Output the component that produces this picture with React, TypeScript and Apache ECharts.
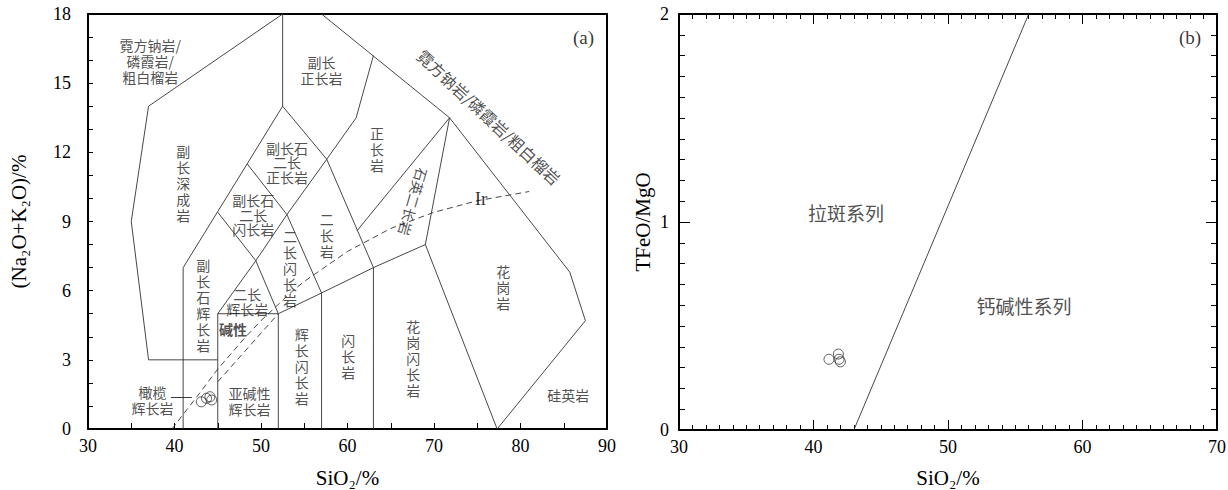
import React, { useEffect, useRef } from "react";
import * as echarts from "echarts";

// ---------- Panel (a): SiO2 vs Na2O+K2O plutonic classification ----------
const foidoliteBoundary = [[45, 3], [37, 3], [35, 9], [37, 14], [52.5, 18]];
const foidGabbroBoundary = [[41, 0], [41, 7], [48.4, 11.5], [52.5, 14], [52.5, 18]];
const gabbroBox = [[45, 0], [45, 5], [52, 5], [52, 0]];
const monzoRidge = [[45, 5], [49.4, 7.3], [53, 9.3], [57.6, 11.7]];
const monzogabbroTop = [[45, 9.4], [49.4, 7.3], [52, 5]];
const dioriteEdge = [[48.4, 11.5], [53, 9.3], [57, 5.9], [57, 0]];
const monzoniteEdge = [[52.5, 14], [57.6, 11.7], [63, 7], [63, 0]];
const lowerChain = [[52, 5], [57, 5.9], [63, 7], [69, 8], [77.3, 0]];
const syeniteLeft = [[57.6, 11.7], [61, 13.5], [63, 16.2]];
const outerRight = [[57, 18], [71.8, 13.5], [85.7, 6.8], [87.5, 4.7], [77.3, 0]];
const graniteLeft = [[69, 8], [71.8, 13.5]];
const quartzMonzoniteTop = [[61.1, 8.6], [71.8, 13.5]];
const irvineCurve = [[39.7, 0], [43, 1.6], [45, 2.6], [48, 3.9], [50, 4.7], [53.7, 6.0], [55, 6.4], [60, 7.7], [65, 8.7], [70, 9.4], [75, 9.9], [81, 10.3]];
const gabbroDivide = [[45, 2.05], [52, 5]];
const arrowFrom = [39.6, 1.38];
const arrowTo = [42.0, 1.38];

const samplesA_SiO2 = [43.1, 43.7, 44.1, 44.3];
const samplesA_Alk = [1.18, 1.33, 1.4, 1.26];

// field names (regular spacing)
const fieldNamesA = [
  "霓方钠岩/\n磷霞岩/\n粗白榴岩", "副长\n正长岩", "正\n长\n岩", "副\n长\n深\n成\n岩",
  "二\n长\n闪\n长\n岩", "二\n长\n岩", "副\n长\n石\n辉\n长\n岩", "亚碱性\n辉长岩", "橄榄\n辉长岩",
  "辉\n长\n闪\n长\n岩", "闪\n长\n岩", "花\n岗\n闪\n长\n岩", "花\n岗\n岩", "硅英岩",
];
const fieldXA = [37.2, 57.0, 63.4, 41.0, 53.35, 57.6, 43.33, 48.67, 37.46, 54.7, 60.1, 67.6, 78.0, 85.53];
const fieldYA = [15.94, 15.55, 12.14, 10.67, 7.0, 8.41, 5.4, 1.21, 1.24, 2.73, 3.17, 3.1, 6.17, 1.47];

// field names in the small diamonds (tighter spacing)
const diamondNamesA = ["副长石\n二长\n正长岩", "副长石\n二长\n闪长岩", "二长\n辉长岩"];
const diamondXA = [53.0, 49.1, 48.4];
const diamondYA = [11.58, 9.3, 5.53];

const alkalineNameA = ["碱性"];
const alkalineXA = [46.76];
const alkalineYA = [4.34];

const slantNameA = ["霓方钠岩/磷霞岩/粗白榴岩"];
const slantXA = [76.36];
const slantYA = [13.54];
const steepNameA = ["石英二长岩"];
const steepXA = [67.6];
const steepYA = [9.86];

const serifNamesA = ["(a)", "Ir"];
const serifXA = [87.28, 75.43];
const serifYA = [16.96, 10.0];

// ---------- Panel (b): SiO2 vs TFeO/MgO ----------
const miyashiroLine = [[43, 0], [56, 2]];
const samplesB_SiO2 = [41.15, 41.85, 41.9, 42.0];
const samplesB_Ratio = [0.34, 0.365, 0.34, 0.328];
const fieldNamesB = ["拉斑系列", "钙碱性系列"];
const fieldXB = [42.42, 55.65];
const fieldYB = [1.048, 0.6];
const serifNamesB = ["(b)"];
const serifXB = [67.99];
const serifYB = [1.885];

const SERIF = "'Liberation Serif', serif";
const CJK = "'Noto Sans CJK SC', sans-serif";

function App() {
  const ref = useRef<HTMLDivElement>(null);

  useEffect(() => {
    if (!ref.current) return;
    const chart = echarts.init(ref.current, null, { renderer: "svg" });

    const line = (data: number[][], panel: number, dashed = false) => ({
      type: "line",
      xAxisIndex: panel * 2,
      yAxisIndex: panel * 2,
      data,
      showSymbol: false,
      symbol: "none",
      silent: true,
      clip: false,
      z: 2,
      lineStyle: { color: "#333", width: 0.9, type: dashed ? [6, 4] : "solid" },
    });

    const labels = (names: string[], xs: number[], ys: number[], panel: number, style: any) => ({
      type: "scatter",
      xAxisIndex: panel * 2,
      yAxisIndex: panel * 2,
      silent: true,
      symbol: "circle",
      symbolSize: 1,
      itemStyle: { color: "rgba(0,0,0,0)" },
      z: 5,
      data: names.map((n, i) => ({ name: n, value: [xs[i], ys[i]] })),
      label: {
        show: true,
        position: "inside",
        formatter: "{b}",
        color: "#222",
        fontFamily: CJK,
        fontSize: 14,
        lineHeight: 16,
        align: "center",
        verticalAlign: "middle",
        ...style,
      },
    });

    const samples = (xs: number[], ys: number[], panel: number) => ({
      type: "scatter",
      xAxisIndex: panel * 2,
      yAxisIndex: panel * 2,
      silent: true,
      symbol: "circle",
      symbolSize: 10,
      z: 6,
      itemStyle: { color: "rgba(0,0,0,0)", borderColor: "#222", borderWidth: 0.9 },
      data: xs.map((x, i) => [x, ys[i]]),
    });

    const axisLine = { onZero: false, lineStyle: { color: "#000", width: 2 } };
    const tickLabel = { color: "#000", fontFamily: SERIF, fontSize: 18 };
    const nameStyle = { color: "#000", fontFamily: SERIF, fontSize: 21 };

    const option: any = {
      animation: false,
      backgroundColor: "#fff",
      textStyle: { fontFamily: SERIF },
      grid: [
        { left: 88, top: 14, width: 519, height: 415, containLabel: false, outerBoundsMode: "none" },
        { left: 679, top: 14, width: 538, height: 416, containLabel: false, outerBoundsMode: "none" },
      ],
      xAxis: [
        {
          gridIndex: 0, type: "value", min: 30, max: 90, interval: 10, position: "bottom",
          axisLine,
          axisTick: { show: true, inside: true, length: 6, lineStyle: { color: "#000", width: 1 } },
          minorTick: { show: true, splitNumber: 2, length: 6, lineStyle: { color: "#000", width: 1 } },
          splitLine: { show: false }, minorSplitLine: { show: false },
          axisLabel: { ...tickLabel, margin: 8 },
          name: "SiO₂/%", nameLocation: "middle", nameGap: 38, nameMoveOverlap: false, nameTextStyle: nameStyle,
        },
        {
          gridIndex: 0, type: "value", min: 30, max: 90, interval: 10, position: "top",
          axisLine, axisTick: { show: false }, axisLabel: { show: false }, splitLine: { show: false },
        },
        {
          gridIndex: 1, type: "value", min: 30, max: 70, interval: 10, position: "bottom",
          axisLine,
          axisTick: { show: true, inside: true, length: 10, lineStyle: { color: "#000", width: 1 } },
          minorTick: { show: true, splitNumber: 10, length: 5, lineStyle: { color: "#000", width: 1 } },
          splitLine: { show: false }, minorSplitLine: { show: false },
          axisLabel: { ...tickLabel, margin: 8 },
          name: "SiO₂/%", nameLocation: "middle", nameGap: 37, nameMoveOverlap: false, nameTextStyle: nameStyle,
        },
        {
          gridIndex: 1, type: "value", min: 30, max: 70, interval: 10, position: "top",
          axisLine,
          axisTick: { show: true, inside: true, length: 10, lineStyle: { color: "#000", width: 1 } },
          minorTick: { show: true, splitNumber: 10, length: 5, lineStyle: { color: "#000", width: 1 } },
          axisLabel: { show: false }, splitLine: { show: false },
        },
      ],
      yAxis: [
        {
          gridIndex: 0, type: "value", min: 0, max: 18, interval: 3, position: "left",
          axisLine,
          axisTick: { show: true, inside: true, length: 5, lineStyle: { color: "#000", width: 1 } },
          minorTick: { show: true, splitNumber: 3, length: 5, lineStyle: { color: "#000", width: 1 } },
          splitLine: { show: false }, minorSplitLine: { show: false },
          axisLabel: { ...tickLabel, margin: 17 },
          name: "(Na₂O+K₂O)/%", nameLocation: "middle", nameGap: 59, nameMoveOverlap: false, nameTextStyle: nameStyle,
        },
        {
          gridIndex: 0, type: "value", min: 0, max: 18, interval: 3, position: "right",
          axisLine, axisTick: { show: false }, axisLabel: { show: false }, splitLine: { show: false },
        },
        {
          gridIndex: 1, type: "value", min: 0, max: 2, interval: 1, position: "left",
          axisLine,
          axisTick: { show: true, inside: true, length: 11, lineStyle: { color: "#000", width: 1 } },
          minorTick: { show: true, splitNumber: 10, length: 6, lineStyle: { color: "#000", width: 1 } },
          splitLine: { show: false }, minorSplitLine: { show: false },
          axisLabel: { ...tickLabel, margin: 10 },
          name: "TFeO/MgO", nameLocation: "middle", nameGap: 26, nameMoveOverlap: false, nameTextStyle: nameStyle,
        },
        {
          gridIndex: 1, type: "value", min: 0, max: 2, interval: 1, position: "right",
          axisLine,
          axisTick: { show: true, inside: true, length: 11, lineStyle: { color: "#000", width: 1 } },
          minorTick: { show: true, splitNumber: 10, length: 6, lineStyle: { color: "#000", width: 1 } },
          axisLabel: { show: false }, splitLine: { show: false },
        },
      ],
      series: [
        line(foidoliteBoundary, 0),
        line(foidGabbroBoundary, 0),
        line(gabbroBox, 0),
        line(monzoRidge, 0),
        line(monzogabbroTop, 0),
        line(dioriteEdge, 0),
        line(monzoniteEdge, 0),
        line(lowerChain, 0),
        line(syeniteLeft, 0),
        line(outerRight, 0),
        line(graniteLeft, 0),
        line(quartzMonzoniteTop, 0),
        line(irvineCurve, 0, true),
        line(gabbroDivide, 0, true),
        {
          type: "line", xAxisIndex: 0, yAxisIndex: 0, data: [], silent: true,
          markLine: {
            silent: true, symbol: ["none", "arrow"], symbolSize: [0, 7],
            label: { show: false },
            lineStyle: { color: "#222", width: 0.9, type: "solid" },
            data: [[{ coord: arrowFrom }, { coord: arrowTo }]],
          },
        },
        samples(samplesA_SiO2, samplesA_Alk, 0),
        labels(fieldNamesA, fieldXA, fieldYA, 0, {}),
        labels(diamondNamesA, diamondXA, diamondYA, 0, { lineHeight: 14.5 }),
        labels(alkalineNameA, alkalineXA, alkalineYA, 0, { fontWeight: "bold" }),
        labels(slantNameA, slantXA, slantYA, 0, { fontSize: 16, rotate: -43 }),
        labels(steepNameA, steepXA, steepYA, 0, { fontSize: 14, rotate: -106 }),
        labels(serifNamesA, serifXA, serifYA, 0, { fontFamily: SERIF, fontSize: 19, color: "#000" }),
        line(miyashiroLine, 1),
        samples(samplesB_SiO2, samplesB_Ratio, 1),
        labels(fieldNamesB, fieldXB, fieldYB, 1, { fontSize: 19 }),
        labels(serifNamesB, serifXB, serifYB, 1, { fontFamily: SERIF, fontSize: 19, color: "#000" }),
      ],
    };

    chart.setOption(option);
    return () => chart.dispose();
  }, []);

  return (
    <div
      ref={ref}
      style={{ position: "fixed", left: 0, top: 0, width: 1228, height: 490, background: "#fff" }}
    />
  );
}

export default App;
